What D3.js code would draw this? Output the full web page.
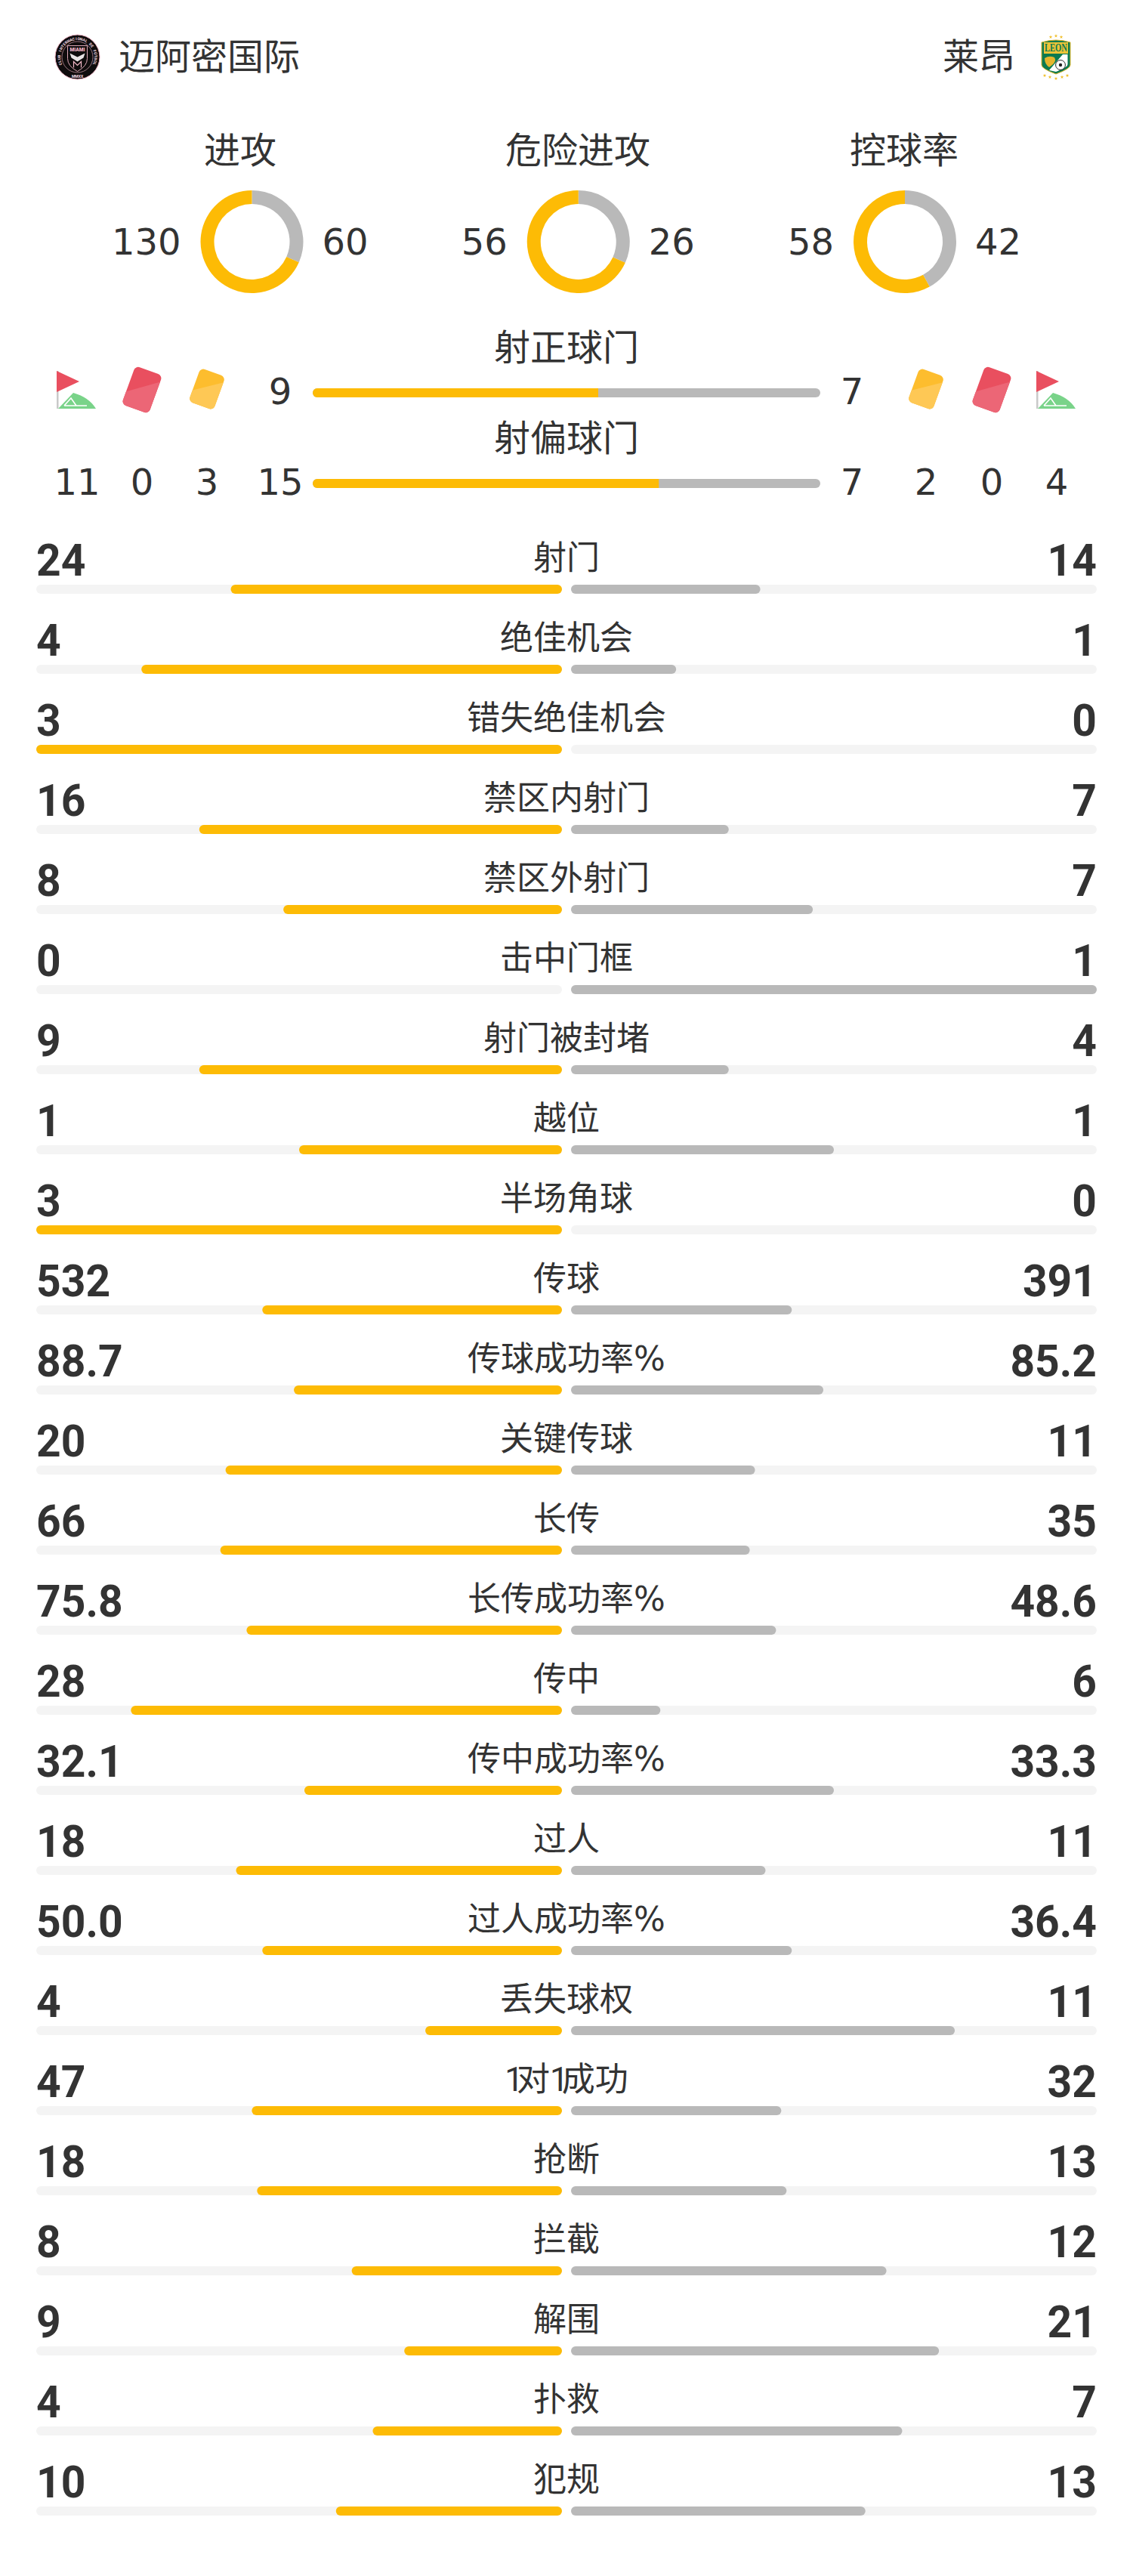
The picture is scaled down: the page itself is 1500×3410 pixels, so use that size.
<!DOCTYPE html>
<html>
<head>
<meta charset="utf-8">
<script src="https://cdn.jsdelivr.net/npm/d3@7/dist/d3.min.js"></script>
<style>
html, body { margin: 0; padding: 0; background: #fff; }
svg { display: block; }
text { fill: #333; }
</style>
</head>
<body>
<script>
// teams
var homeTeam = '迈阿密国际';
var awayTeam = '莱昂';

// donuts on top
var donutLabels = ['进攻', '危险进攻', '控球率'];
var donutHome = [130, 56, 58];
var donutAway = [60, 26, 42];

// the two thin bars
var shotLabels = ['射正球门', '射偏球门'];
var shotHome = [9, 15];
var shotAway = [7, 7];

// counts under the icons: corners, red cards, yellow cards
var homeCounts = [11, 0, 3];
var awayCounts = [2, 0, 4];

// main table. text values so that 50.0 keeps its decimal
var rowLabels = ['射门', '绝佳机会', '错失绝佳机会', '禁区内射门', '禁区外射门', '击中门框', '射门被封堵', '越位', '半场角球',
    '传球', '传球成功率%', '关键传球', '长传', '长传成功率%', '传中', '传中成功率%', '过人', '过人成功率%', '丢失球权',
    '1对1成功', '抢断', '拦截', '解围', '扑救', '犯规'];
var rowHome = ['24', '4', '3', '16', '8', '0', '9', '1', '3', '532', '88.7', '20', '66', '75.8', '28', '32.1', '18', '50.0', '4',
    '47', '18', '8', '9', '4', '10'];
var rowAway = ['14', '1', '0', '7', '7', '1', '4', '1', '0', '391', '85.2', '11', '35', '48.6', '6', '33.3', '11', '36.4', '11',
    '32', '13', '12', '21', '7', '13'];
// bar lengths, percent of the track (they look floored, so pairs often add to 99)
var rowHomePct = [63, 80, 100, 69, 53, 0, 69, 50, 100, 57, 51, 64, 65, 60, 82, 49, 62, 57, 26, 59, 58, 40, 30, 36, 43];
var rowAwayPct = [36, 20, 0, 30, 46, 100, 30, 50, 0, 42, 48, 35, 34, 39, 17, 50, 37, 42, 73, 40, 41, 60, 70, 63, 56];

var width = 1500;
var height = 3410;
var yellow = '#fdbb05';
var grey = '#b9b9b9';
var track = '#f4f4f4';
var cjk = '"DejaVu Sans", "Noto Sans CJK SC", sans-serif';
var din = 'Roboto, sans-serif';

var svg = d3.select('body').append('svg')
    .attr('width', width)
    .attr('height', height)
    .attr('viewBox', '0 0 ' + width + ' ' + height);

function label(x, y, str, size, anchor) {
    return svg.append('text')
        .attr('x', x)
        .attr('y', y)
        .attr('text-anchor', anchor || 'middle')
        .style('font-family', cjk)
        .style('font-size', size + 'px')
        .text(str);
}

// same as label, but the digit 1 is set narrow like in the original (1对1成功)
function rowLabel(x, y, str) {
    var t = label(x, y, '', 44);
    str.split(/(1)/).forEach(function (part) {
        if (part === '') return;
        var span = t.append('tspan').text(part);
        if (part === '1') {
            span.style('font-family', din).style('letter-spacing', '-9px');
        }
    });
    return t;
}

// the row numbers are a narrow DIN in the original, so squeeze Roboto a bit
function rowNumber(x, y, str, anchor) {
    return svg.append('text')
        .attr('transform', 'translate(' + x + ',' + y + ') scale(0.95,1)')
        .attr('text-anchor', anchor)
        .style('font-family', din)
        .style('font-weight', 700)
        .style('font-size', '60px')
        .text(str);
}

// header
drawMiami(102.5, 75.5);
drawLeon(1398, 76);
label(157, 92, homeTeam, 48, 'start');
label(1344, 92, awayTeam, 48, 'end');

// donuts
var donutX = d3.scalePoint().domain(donutLabels).range([333.5, 1198]);
var pie = d3.pie().sort(null).startAngle(0).endAngle(2 * Math.PI);
var arc = d3.arc().innerRadius(50).outerRadius(68);

donutLabels.forEach(function (name, i) {
    var cx = donutX(name);
    var titleX = [318, 765, 1197][i];
    label(titleX, 216, name, 48);
    svg.append('g')
        .attr('transform', 'translate(' + cx + ',320)')
        .selectAll('path')
        .data(pie([donutAway[i], donutHome[i]]))
        .enter()
        .append('path')
        .attr('d', arc)
        .attr('fill', function (d, j) { return j === 0 ? grey : yellow; });
    label(cx - 94, 337, donutHome[i], 48, 'end');
    label(cx + 93, 337, donutAway[i], 48, 'start');
});

// thin bars with the icons row
var shotRowY = d3.scaleOrdinal().domain(shotLabels).range([514, 634]);
var shotShare = d3.scaleLinear().domain([0, 1]).range([414, 1086]);

shotLabels.forEach(function (name, i) {
    var y = shotRowY(name);
    var share = shotHome[i] / (shotHome[i] + shotAway[i]);
    label(750, y - 37, name, 48);
    var g = svg.append('g');
    g.append('rect')
        .attr('x', shotShare(0)).attr('y', y)
        .attr('width', shotShare(1) - shotShare(0)).attr('height', 12)
        .attr('rx', 6).attr('fill', grey);
    g.append('rect')
        .attr('x', shotShare(0)).attr('y', y)
        .attr('width', shotShare(share) - shotShare(0)).attr('height', 12)
        .attr('rx', 6).attr('fill', yellow);
    g.append('rect')
        .attr('x', shotShare(share) - 6).attr('y', y)
        .attr('width', 6).attr('height', 12)
        .attr('fill', yellow);
    label(371, y + 21, shotHome[i], 48);
    label(1128, y + 21, shotAway[i], 48);
});

// icons above the counts
drawFlag(0);
drawCard(188, 516, 38, 54, '#e94f5f', '#ec6676');
drawCard(274, 515, 35, 47, '#fdbd2e', '#fec855');
drawCard(1226, 515, 35, 47, '#fdbd2e', '#fec855');
drawCard(1313, 516, 38, 54, '#e94f5f', '#ec6676');
drawFlag(1297);

var homeCountX = [102, 188, 274];
var awayCountX = [1226, 1313, 1399];
homeCounts.forEach(function (v, i) { label(homeCountX[i], 655, v, 48); });
awayCounts.forEach(function (v, i) { label(awayCountX[i], 655, v, 48); });

// main rows
var rowY = d3.scaleLinear().domain([0, rowLabels.length - 1]).range([774, 3318]);
var barLen = d3.scaleLinear().domain([0, 100]).range([0, 696]);

rowLabels.forEach(function (name, i) {
    var y = rowY(i);

    rowNumber(48, y - 12, rowHome[i], 'start');
    rowNumber(1452, y - 12, rowAway[i], 'end');
    rowLabel(750, y - 20, name);

    svg.append('rect').attr('x', 48).attr('y', y).attr('width', 696).attr('height', 12).attr('rx', 6).attr('fill', track);
    svg.append('rect').attr('x', 756).attr('y', y).attr('width', 696).attr('height', 12).attr('rx', 6).attr('fill', track);

    if (rowHomePct[i] > 0) {
        var w = barLen(rowHomePct[i]);
        svg.append('rect').attr('x', 744 - w).attr('y', y).attr('width', w).attr('height', 12).attr('rx', 6).attr('fill', yellow);
    }
    if (rowAwayPct[i] > 0) {
        svg.append('rect').attr('x', 756).attr('y', y).attr('width', barLen(rowAwayPct[i])).attr('height', 12).attr('rx', 6).attr('fill', grey);
    }
});

function drawFlag(dx) {
    var g = svg.append('g').attr('transform', 'translate(' + dx + ',0)');
    g.append('rect').attr('x', 75).attr('y', 491).attr('width', 2.5).attr('height', 50).attr('fill', '#c9c9c9');
    g.append('path').attr('d', 'M75,491L105,505L75,519Z').attr('fill', '#e94f5f');
    g.append('path').attr('d', 'M77,541L97,520Q118,526 127,541Z').attr('fill', '#79d389');
    g.append('path')
        .attr('d', 'M85,537L94,527L101,537M85,537H115')
        .attr('fill', 'none')
        .attr('stroke', '#fff')
        .attr('stroke-width', 1.6);
}

function drawCard(cx, cy, w, h, dark, light) {
    var g = svg.append('g').attr('transform', 'translate(' + cx + ',' + cy + ') rotate(20)');
    var id = 'card' + cx;
    g.append('clipPath').attr('id', id)
        .append('rect').attr('x', -w / 2).attr('y', -h / 2).attr('width', w).attr('height', h).attr('rx', 6);
    g.append('rect').attr('x', -w / 2).attr('y', -h / 2).attr('width', w).attr('height', h).attr('rx', 6).attr('fill', dark);
    g.append('path')
        .attr('clip-path', 'url(#' + id + ')')
        .attr('d', 'M' + (-w / 2 - 2) + ',' + (h * 0.2) + 'L' + (w / 2 + 2) + ',' + (-h * 0.36) + 'V' + (h / 2 + 2) + 'H' + (-w / 2 - 2) + 'Z')
        .attr('fill', light);
}

function drawMiami(cx, cy) {
    var g = svg.append('g').attr('transform', 'translate(' + cx + ',' + cy + ')');
    var pink = '#f3b8c8';
    g.append('circle').attr('r', 29.5).attr('fill', '#0f0c0d').attr('stroke', pink).attr('stroke-width', 1);
    g.append('circle').attr('r', 20.5).attr('fill', 'none').attr('stroke', pink).attr('stroke-width', 0.6);

    // ring letters one by one
    var ring = 'CLUB INTERNACIONAL DE FÚTBOL'.split('');
    ring.forEach(function (ch, i) {
        var a = -112 + i * (224 / (ring.length - 1));
        g.append('text')
            .attr('transform', 'rotate(' + a + ') translate(0,-22.5)')
            .attr('text-anchor', 'middle')
            .style('font-family', din).style('font-weight', 700).style('font-size', '5px')
            .style('fill', '#f6dfe6')
            .text(ch);
    });
    g.append('text').attr('y', 27).attr('text-anchor', 'middle').style('font-family', din)
        .style('font-weight', 700).style('font-size', '5px').style('fill', '#f6dfe6').text('MMXX');

    g.append('path').attr('d', 'M-13,-15H13V2Q13,12 0,19Q-13,12 -13,2Z').attr('fill', '#0f0c0d').attr('stroke', pink).attr('stroke-width', 0.9);
    g.append('text').attr('y', -8).attr('text-anchor', 'middle').style('font-family', din)
        .style('font-weight', 900).style('font-size', '6.5px').style('fill', pink).text('MIAMI');
    g.append('path').attr('d', 'M-10,-5L0,0L10,-5L8,1L0,6L-8,1Z').attr('fill', '#e9e4e5');
    g.append('path').attr('d', 'M-5,14V6L0,11L5,6V14').attr('fill', 'none').attr('stroke', pink).attr('stroke-width', 1.2);
}

function drawLeon(cx, cy) {
    var g = svg.append('g').attr('transform', 'translate(' + cx + ',' + cy + ')');
    var topStars = [[-7, -27], [0, -28.5], [7, -27]];
    var lowStars = [[-15, 24], [-8, 26], [0, 28], [8, 26], [15, 24]];
    g.selectAll('path.star').data(topStars.concat(lowStars)).enter().append('path')
        .attr('class', 'star')
        .attr('d', d3.symbol(d3.symbolStar, 7))
        .attr('transform', function (d) { return 'translate(' + d[0] + ',' + d[1] + ')'; })
        .attr('fill', '#f0bf2a');
    g.append('path').attr('d', 'M-19,-20Q0,-26 19,-20V10Q19,15 0,22Q-19,15 -19,10Z').attr('fill', '#0b7a50').attr('stroke', '#e0b52a').attr('stroke-width', 1);
    g.append('rect').attr('x', -16).attr('y', -20).attr('width', 32).attr('height', 15).attr('fill', '#eec437');
    g.append('text').attr('y', -8).attr('text-anchor', 'middle').style('font-family', '"Liberation Serif", serif')
        .style('font-weight', 700).style('font-size', '14px').style('fill', '#0b7a50')
        .attr('textLength', 30).attr('lengthAdjust', 'spacingAndGlyphs').text('LEON');
    g.append('path').attr('d', 'M15.5,-4V9Q15.5,13 0,19L-9,17L9,-4Z').attr('fill', '#fff');
    g.append('circle').attr('cx', 6).attr('cy', 10).attr('r', 6.4).attr('fill', '#fff').attr('stroke', '#222').attr('stroke-width', 1);
    g.append('circle').attr('cx', 6).attr('cy', 10).attr('r', 2.2).attr('fill', '#222');
    g.append('path').attr('d', 'M-15,1Q-9,-3 -2,0Q1,5 -5,10L-9,13Q-15,9 -15,1Z').attr('fill', '#e4b52c');
}
</script>
</body>
</html>
